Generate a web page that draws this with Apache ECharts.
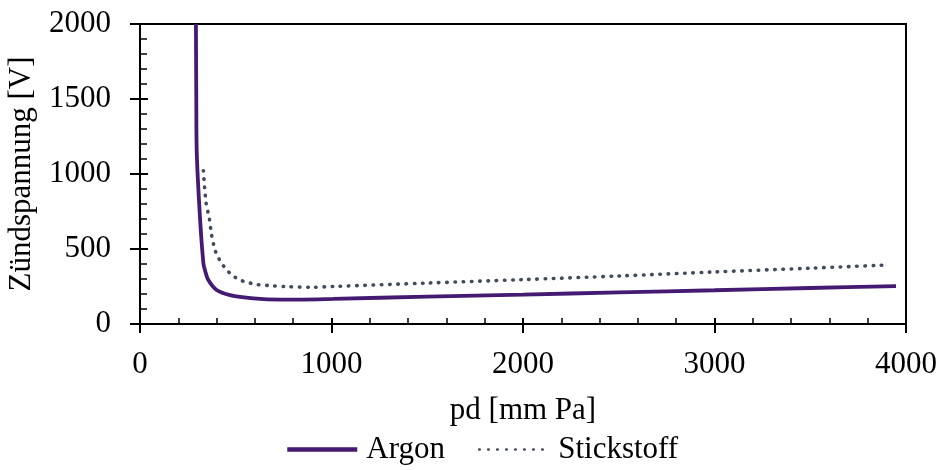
<!DOCTYPE html>
<html>
<head>
<meta charset="utf-8">
<script src="https://cdn.jsdelivr.net/npm/echarts@6/dist/echarts.min.js"></script>
<style>
  html, body { margin: 0; padding: 0; background: #fff; }
  #chart { width: 940px; height: 470px; }
</style>
</head>
<body>
<div id="chart"></div>
<script>
// Werte: [pd, Spannung]
const argon = [
  [292, 2000], [294, 1500], [296, 1160], [313, 715], [331, 404], [339, 360],
  [357, 293], [400, 227], [470, 193], [592, 171], [731, 162], [850, 163],
  [1008, 167], [1500, 183], [2000, 196], [2500, 211], [3000, 225],
  [3500, 240], [3948, 253]
];
const stickstoff = [
  [331, 1022], [345, 807], [362, 704], [374, 593], [392, 493], [409, 442],
  [430, 398], [456, 356], [487, 320], [522, 293], [560, 278], [604, 264],
  [679, 256], [766, 249], [897, 245], [1008, 250], [1500, 273], [2000, 296],
  [2500, 320], [3000, 347], [3500, 372], [3894, 393]
];
const seriesNames = ['Argon', 'Stickstoff'];
const colors = ['#451a72', '#414b5b'];

const font = 'Liberation Serif';
const fs = 31;
let myChart = echarts.init(document.getElementById('chart'));

let option = {
  animation: false,
  textStyle: { fontFamily: font, color: '#000' },
  grid: {
    left: 140, right: 34, top: 24, bottom: 146,
    outerBoundsMode: 'none',
    containLabel: false,
    show: true, borderColor: '#000', borderWidth: 2, backgroundColor: 'transparent'
  },
  legend: {
    left: 280,
    top: 429,
    itemWidth: 70,
    itemHeight: 14,
    itemGap: 33,
    itemStyle: { opacity: 0 },
    textStyle: { fontFamily: font, fontSize: fs, color: '#000', padding: [0, 0, 0, 4] },
    data: [
      { name: seriesNames[0], lineStyle: { width: 4.5 } },
      { name: seriesNames[1], lineStyle: { width: 2.6, type: [0.5, 8.5], cap: 'round' } }
    ]
  },
  xAxis: [{
    type: 'value',
    min: 0, max: 4000, interval: 1000,
    name: 'pd [mm Pa]',
    nameLocation: 'middle',
    nameGap: 71,
    nameTextStyle: { fontFamily: font, fontSize: fs, color: '#000' },
    axisLine: { show: true, onZero: false, lineStyle: { color: '#000', width: 2 } },
    axisTick: { show: true, inside: true, length: 6, lineStyle: { color: '#000', width: 2 } },
    minorTick: { show: true, splitNumber: 5, length: 6, lineStyle: { color: '#000', width: 1.5 } },
    axisLabel: { fontFamily: font, fontSize: fs, color: '#000', margin: 25, formatter: v => String(v) },
    splitLine: { show: false }
  }, {
    type: 'value',
    position: 'bottom',
    min: 0, max: 4000, interval: 1000,
    axisLine: { show: false, onZero: false },
    axisTick: { show: true, inside: false, length: 9, lineStyle: { color: '#000', width: 2 } },
    axisLabel: { show: false },
    splitLine: { show: false }
  }],
  yAxis: [{
    type: 'value',
    min: 0, max: 2000, interval: 500,
    name: 'Zündspannung [V]',
    nameLocation: 'middle',
    nameGap: 103,
    nameTextStyle: { fontFamily: font, fontSize: fs, color: '#000' },
    axisLine: { show: true, onZero: false, lineStyle: { color: '#000', width: 2 } },
    axisTick: { show: true, inside: true, length: 8, lineStyle: { color: '#000', width: 2 } },
    minorTick: { show: true, splitNumber: 5, length: 7, lineStyle: { color: '#000', width: 1.5 } },
    axisLabel: { fontFamily: font, fontSize: fs, color: '#000', margin: 29, formatter: v => String(v) },
    splitLine: { show: false }
  }, {
    type: 'value',
    position: 'left',
    min: 0, max: 2000, interval: 500,
    axisLine: { show: false, onZero: false },
    axisTick: { show: true, inside: false, length: 10, lineStyle: { color: '#000', width: 2 } },
    axisLabel: { show: false },
    splitLine: { show: false }
  }],
  series: [{
    name: seriesNames[0],
    type: 'line',
    xAxisIndex: 0, yAxisIndex: 0,
    data: argon,
    smooth: 0.3,
    symbol: 'none',
    itemStyle: { color: colors[0] },
    lineStyle: { color: colors[0], width: 3.8 }
  }, {
    name: seriesNames[1],
    type: 'line',
    xAxisIndex: 0, yAxisIndex: 0,
    data: stickstoff,
    smooth: 0.3,
    symbol: 'none',
    itemStyle: { color: colors[1] },
    lineStyle: { color: colors[1], width: 3.6, type: [0.5, 7.7], cap: 'round' }
  }]
};

myChart.setOption(option, true);
</script>
</body>
</html>
